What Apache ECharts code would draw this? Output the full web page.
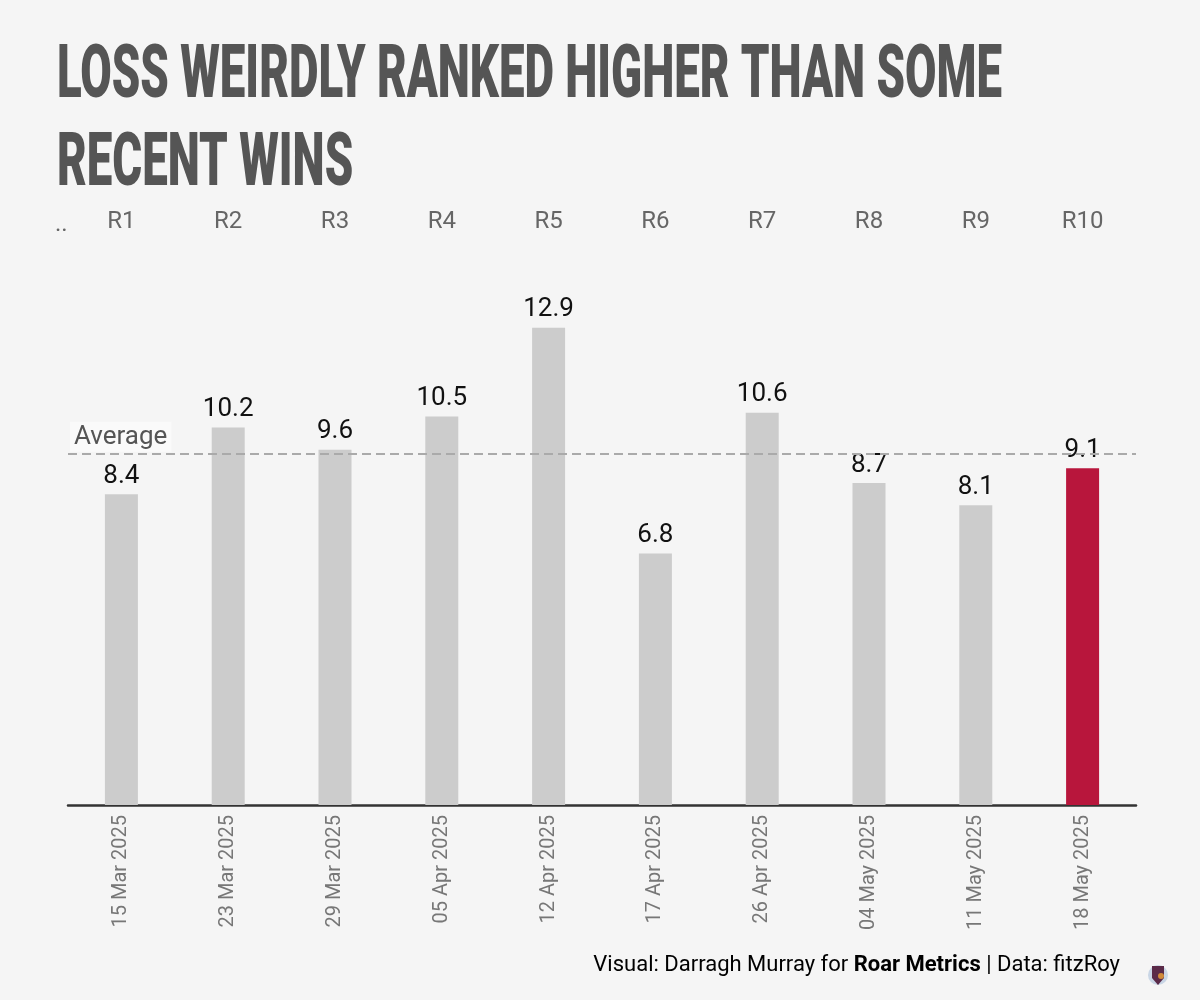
<!DOCTYPE html>
<html>
<head>
<meta charset="utf-8">
<script src="https://cdn.jsdelivr.net/npm/echarts@6/dist/echarts.min.js"></script>
<style>
html,body{margin:0;padding:0;background:#f5f5f5;}
#chart{width:1200px;height:1000px;}
</style>
</head>
<body>
<div id="chart"></div>
<script>
var rounds = ['R1','R2','R3','R4','R5','R6','R7','R8','R9','R10'];
var dates = ['15 Mar 2025','23 Mar 2025','29 Mar 2025','05 Apr 2025','12 Apr 2025','17 Apr 2025','26 Apr 2025','04 May 2025','11 May 2025','18 May 2025'];
var values = [8.4, 10.2, 9.6, 10.5, 12.9, 6.8, 10.6, 8.7, 8.1, 9.1];
var highlightIndex = 9;

var chart = echarts.init(document.getElementById('chart'));
var barData = values.map(function(v, i){
  return {value: v, itemStyle: {color: i === highlightIndex ? '#b8163c' : '#cccccc'}};
});

chart.setOption({
  backgroundColor: '#f5f5f5',
  animation: false,
  grid: {left: 68, right: 64, top: 250, bottom: 195},
  xAxis: [{
    type: 'category',
    data: dates,
    position: 'bottom',
    axisLine: {show: true, lineStyle: {color: '#333', width: 2.5}},
    axisTick: {show: false},
    axisLabel: {rotate: 90, margin: 10, fontSize: 20, color: '#777', fontFamily: 'Roboto'}
  }, {
    type: 'category',
    data: rounds,
    position: 'top',
    axisLine: {show: false},
    axisTick: {show: false},
    axisLabel: {margin: 16, fontSize: 24, color: '#666', fontFamily: 'Roboto'}
  }],
  yAxis: {
    type: 'value', min: 0, max: 15,
    axisLine: {show: false}, axisTick: {show: false},
    axisLabel: {show: false}, splitLine: {show: false}
  },
  series: [{
    type: 'bar',
    data: barData,
    barWidth: 33,
    label: {show: true, position: 'top', distance: 5, fontSize: 26, color: '#111', fontFamily: 'Roboto'},
    markLine: {
      silent: true,
      symbol: 'none',
      data: [{type: 'average', name: 'Average'}],
      lineStyle: {color: '#aaaaaa', width: 2, type: [9, 5]},
      label: {
        show: true, position: 'insideStartTop', formatter: 'Average',
        fontSize: 26, color: '#555', fontFamily: 'Roboto',
        backgroundColor: '#fafafa', padding: [3, 4, 1, 4], distance: [2, 2]
      }
    },
    z: 3
  }],
  graphic: [
    {type: 'text', x: 57, y: 41, scaleX: 0.608, style: {text: 'LOSS WEIRDLY RANKED HIGHER THAN SOME', font: '900 75px Roboto', fill: '#555555'}},
    {type: 'text', x: 57, y: 129, scaleX: 0.608, style: {text: 'RECENT WINS', font: '900 75px Roboto', fill: '#555555'}},
    {type: 'text', x: 55, y: 213, style: {text: '..', font: '24px Roboto', fill: '#666'}},
    {type: 'text', x: 1120, y: 965, style: {
      text: '{n|Visual: Darragh Murray for }{b|Roar Metrics}{n| | Data: fitzRoy}',
      align: 'right', verticalAlign: 'middle',
      rich: {
        n: {fontSize: 22, fontFamily: 'Roboto', color: '#111'},
        b: {fontSize: 22, fontFamily: 'Roboto', fontWeight: 'bold', color: '#111'}
      }
    }},
    {type: 'circle', shape: {cx: 1158, cy: 975, r: 10}, style: {fill: '#c9d6e6'}},
    {type: 'polygon', shape: {points: [[1152,966],[1164,966],[1164,978],[1158,985],[1152,978]]}, style: {fill: '#5a2a48'}},
    {type: 'circle', shape: {cx: 1161, cy: 976, r: 3}, style: {fill: '#d08a3a'}}
  ]
});
</script>
</body>
</html>
